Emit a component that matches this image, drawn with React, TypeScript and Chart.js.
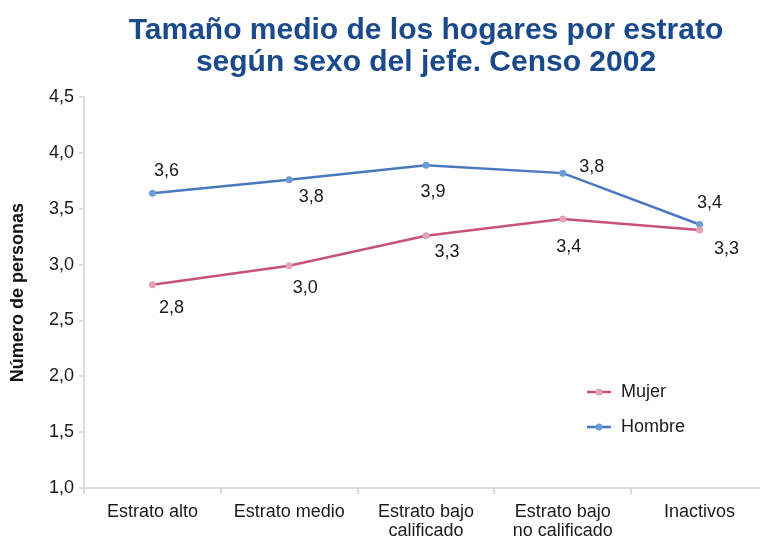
import React, { useEffect, useRef } from "react";
import { Chart, registerables } from "chart.js";

Chart.register(...registerables);

const categories: (string | string[])[] = [
  "Estrato alto",
  "Estrato medio",
  ["Estrato bajo", "calificado"],
  ["Estrato bajo", "no calificado"],
  "Inactivos",
];
const mujerValues = [2.82, 2.99, 3.26, 3.41, 3.31];
const hombreValues = [3.64, 3.76, 3.89, 3.82, 3.36];
const seriesNames = ["Mujer", "Hombre"];
const titleLines = ["Tamaño medio de los hogares por estrato", "según sexo del jefe. Censo 2002"];
const yAxisTitle = "Número de personas";
const yMin = 1.0;
const yMax = 4.5;
const yStep = 0.5;

// label offsets (style), per series, per point
const mujerLabelOffsets = [
  [19, 23],
  [16, 22],
  [21, 16],
  [6, 28],
  [27, 19],
];
const hombreLabelOffsets = [
  [14, -22],
  [22, 17],
  [7, 27],
  [29, -6],
  [10, -21],
];

const FONT = "'Liberation Sans', Arial, Helvetica, sans-serif";
const fmt = (v: number) => v.toFixed(1).replace(".", ",");

const MUJER_LINE = "#c8507c";
const MUJER_POINT = "#e4a2ba";
const HOMBRE_LINE = "#4a78bf";
const HOMBRE_POINT = "#6c9ddb";

const dataLabelPlugin = {
  id: "dataLabels",
  afterDatasetsDraw(chart: any) {
    const ctx = chart.ctx;
    const offsets = [mujerLabelOffsets, hombreLabelOffsets];
    ctx.save();
    ctx.font = `18px ${FONT}`;
    ctx.fillStyle = "#1a1a1a";
    ctx.textAlign = "center";
    ctx.textBaseline = "middle";
    chart.data.datasets.forEach((ds: any, i: number) => {
      const meta = chart.getDatasetMeta(i);
      meta.data.forEach((pt: any, j: number) => {
        const [dx, dy] = offsets[i][j];
        ctx.fillText(fmt(ds.data[j]), pt.x + dx, pt.y + dy);
      });
    });
    ctx.restore();
  },
};

const legendPlugin = {
  id: "customLegend",
  afterDraw(chart: any) {
    const ctx = chart.ctx;
    const area = chart.chartArea;
    const x0 = area.right - 181;
    const ys = [area.bottom - 96, area.bottom - 61];
    ctx.save();
    chart.data.datasets.forEach((ds: any, i: number) => {
      const y = ys[i];
      ctx.strokeStyle = ds.borderColor;
      ctx.lineWidth = 2.5;
      ctx.beginPath();
      ctx.moveTo(x0, y);
      ctx.lineTo(x0 + 24, y);
      ctx.stroke();
      ctx.fillStyle = ds.pointBackgroundColor;
      ctx.beginPath();
      ctx.arc(x0 + 12, y, 3.5, 0, Math.PI * 2);
      ctx.fill();
      ctx.fillStyle = "#1a1a1a";
      ctx.font = `18px ${FONT}`;
      ctx.textAlign = "left";
      ctx.textBaseline = "middle";
      ctx.fillText(ds.label, x0 + 34, y);
    });
    ctx.restore();
  },
};

export default function App() {
  const ref = useRef<HTMLCanvasElement | null>(null);
  useEffect(() => {
    if (!ref.current) return;
    const chart = new Chart(ref.current, {
      type: "line",
      data: {
        labels: categories,
        datasets: [
          {
            label: seriesNames[0],
            data: mujerValues,
            borderColor: MUJER_LINE,
            backgroundColor: MUJER_LINE,
            pointBackgroundColor: MUJER_POINT,
            pointBorderWidth: 0,
            pointRadius: 3.5,
            borderWidth: 2.5,
            tension: 0,
          },
          {
            label: seriesNames[1],
            data: hombreValues,
            borderColor: HOMBRE_LINE,
            backgroundColor: HOMBRE_LINE,
            pointBackgroundColor: HOMBRE_POINT,
            pointBorderWidth: 0,
            pointRadius: 3.5,
            borderWidth: 2.5,
            tension: 0,
          },
        ],
      },
      options: {
        responsive: false,
        animation: false,
        layout: { padding: { left: 7, right: 3, top: 0, bottom: 0 } },
        plugins: {
          legend: { display: false },
          tooltip: { enabled: false },
          title: {
            display: true,
            text: titleLines,
            fullSize: false,
            color: "#1b4a8c",
            font: { family: FONT, size: 30, weight: "bold", lineHeight: 1.07 },
            padding: { top: 15, bottom: 18 },
          },
        },
        scales: {
          x: {
            type: "category",
            offset: true,
            grid: {
              offset: true,
              drawOnChartArea: false,
              drawTicks: true,
              tickLength: 6,
              color: "#dcdcdc",
              lineWidth: 2,
            },
            border: { color: "#dcdcdc", width: 2 },
            ticks: {
              color: "#1a1a1a",
              font: { family: FONT, size: 18, lineHeight: 1.05 },
              padding: 9,
              maxRotation: 0,
              autoSkip: false,
            },
            afterFit: (scale: any) => {
              scale.height = 52;
            },
          },
          y: {
            min: yMin,
            max: yMax,
            ticks: {
              stepSize: yStep,
              color: "#1a1a1a",
              font: { family: FONT, size: 18 },
              padding: 5,
              callback: (v: any) => fmt(Number(v)),
            },
            grid: {
              drawOnChartArea: false,
              drawTicks: true,
              tickLength: 5,
              color: "#dcdcdc",
              lineWidth: 2,
            },
            border: { color: "#dcdcdc", width: 2 },
            title: {
              display: true,
              text: yAxisTitle,
              color: "#111",
              font: { family: FONT, size: 18, weight: "bold" },
              padding: { top: 0, bottom: 10 },
            },
            afterFit: (scale: any) => {
              scale.width = 77;
            },
          },
        },
      },
      plugins: [dataLabelPlugin, legendPlugin],
    });
    return () => chart.destroy();
  }, []);
  return (
    <div
      style={{
        position: "fixed",
        left: 0,
        top: 0,
        width: 760,
        height: 540,
        overflow: "hidden",
        background: "#fff",
      }}
    >
      <canvas ref={ref} width={772} height={540} style={{ display: "block" }} />
    </div>
  );
}
